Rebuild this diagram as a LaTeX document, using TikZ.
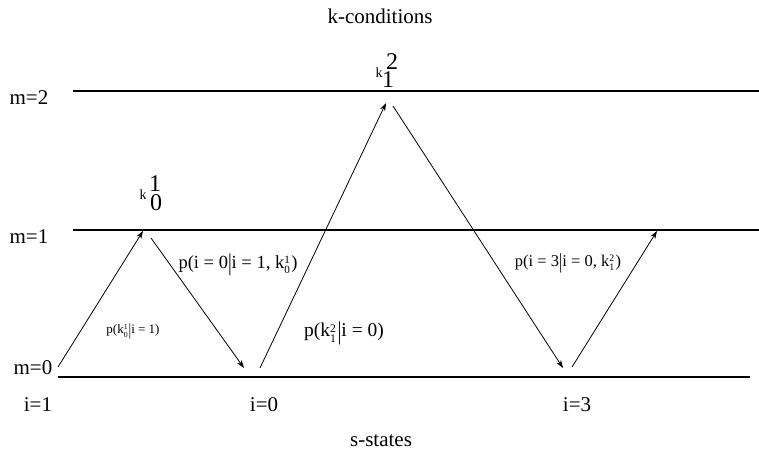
\documentclass[tikz,border=0pt]{standalone}
\usepackage{fontspec}
\setmainfont{Liberation Serif}
\usetikzlibrary{arrows.meta}
\newcommand\kidx[2]{k\raisebox{-0.6ex}{\scalebox{0.6}{\shortstack[l]{#2\\[0.05em]#1}}}\hspace{0.08em}}
\newcommand\vb{\raisebox{-0.25ex}{\scalebox{1}[1.3]{|}}}
\begin{document}
\begin{tikzpicture}[x=1pt,y=-1pt,
  level/.style={line width=2.8pt},
  trans/.style={line width=0.8pt,-{Stealth[length=8pt,width=5.5pt]}},
  lab/.style={inner sep=0pt,font=\fontsize{21}{24}\selectfont},
  big/.style={inner sep=0pt,font=\fontsize{24}{26}\selectfont},
  smallk/.style={inner sep=0pt,font=\fontsize{14}{16}\selectfont}]
\useasboundingbox (0,0) rectangle (759,456);
% levels
\coordinate (l2a) at (73,91);  \coordinate (l2b) at (759,91);
\coordinate (l1a) at (73,230); \coordinate (l1b) at (759,230);
\coordinate (l0a) at (58,377); \coordinate (l0b) at (750,377);
\draw[level] (l2a) -- (l2b);
\draw[level] (l1a) -- (l1b);
\draw[level] (l0a) -- (l0b);
% titles
\node[lab] (kc) at (380,16) {k-conditions};
\node[lab] (ss) at (381,441) {s-states};
\node[lab] (m2) at (29,98) {m=2};
\node[lab] (m1) at (29,237) {m=1};
\node[lab] (m0) at (33,368) {m=0};
\node[lab] (i1) at (38,405) {i=1};
\node[lab] (i0) at (264,405) {i=0};
\node[lab] (i3) at (577,405) {i=3};
% k labels
\node[smallk] (k01k) at (143,195) {k};
\node[big] (k01b) at (156,203) {0};
\node[big] (k01t) at (155,184) {1};
\node[smallk] (k12k) at (379,73) {k};
\node[big] (k12b) at (388,80) {1};
\node[big] (k12t) at (392,62) {2};
% transition points
\coordinate (a1s) at (58,367);  \coordinate (a1e) at (143,231);
\coordinate (a2s) at (151,238); \coordinate (a2e) at (244,368);
\coordinate (a3s) at (260,368); \coordinate (a3e) at (386,103);
\coordinate (a4s) at (393,106); \coordinate (a4e) at (563,368);
\coordinate (a5s) at (572,367); \coordinate (a5e) at (657,231);
\draw[trans] (a1s) -- (a1e);
\draw[trans] (a2s) -- (a2e);
\draw[trans] (a3s) -- (a3e);
\draw[trans] (a4s) -- (a4e);
\draw[trans] (a5s) -- (a5e);
% probability labels
\node[inner sep=0pt,font=\fontsize{13}{15}\selectfont] (p1) at (133,331) {p(\kidx{0}{1}\vb i = 1)};
\node[inner sep=0pt,font=\fontsize{18.5}{21}\selectfont] (p2) at (238,265) {p(i = 0\vb i = 1, \kidx{0}{1})};
\node[inner sep=0pt,font=\fontsize{19.5}{22}\selectfont] (p3) at (344,333) {p(\kidx{1}{2}\vb i = 0)};
\node[inner sep=0pt,font=\fontsize{16.5}{19}\selectfont] (p4) at (568,263) {p(i = 3\vb i = 0, \kidx{1}{2})};
\end{tikzpicture}
\end{document}
